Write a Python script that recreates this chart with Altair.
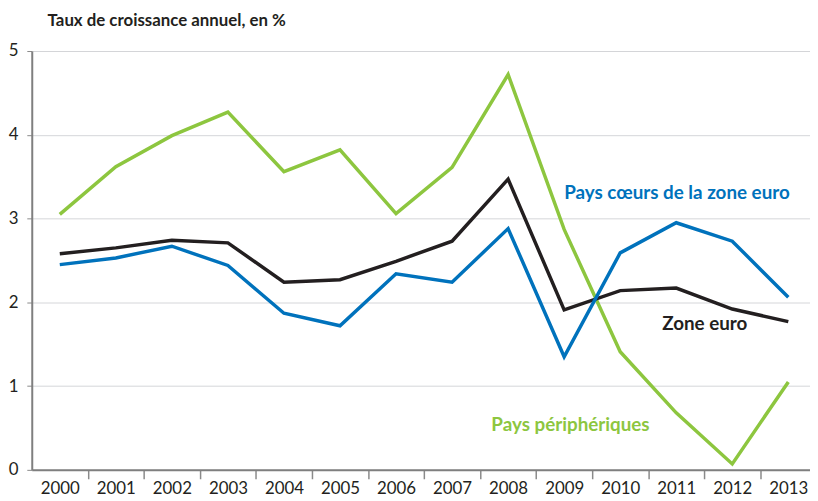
import altair as alt
import pandas as pd

years = list(range(2000, 2014))
peripheriques = [3.05, 3.62, 3.99, 4.27, 3.56, 3.82, 3.06, 3.61, 4.72, 2.87, 1.41, 0.68, 0.07, 1.05]
zone_euro = [2.58, 2.65, 2.74, 2.71, 2.24, 2.27, 2.49, 2.73, 3.47, 1.91, 2.14, 2.17, 1.92, 1.77]
coeurs = [2.45, 2.53, 2.67, 2.44, 1.87, 1.72, 2.34, 2.24, 2.88, 1.35, 2.59, 2.95, 2.73, 2.06]

series = ["Pays périphériques", "Zone euro", "Pays cœurs de la zone euro"]
colors = ["#8dc63f", "#231f20", "#0072bc"]

rows = []
for name, vals in zip(series, [peripheriques, zone_euro, coeurs]):
    for yr, v in zip(years, vals):
        rows.append({"annee": yr, "valeur": v, "serie": name})
df = pd.DataFrame(rows)

# annotation labels (position in data units)
lab_text = ["Pays cœurs de la zone euro", "Zone euro", "Pays périphériques"]
lab_x = [2009.0, 2010.75, 2007.7]
lab_y = [3.30, 1.74, 0.53]
lab_df = pd.DataFrame({"texte": lab_text, "x": lab_x, "y": lab_y, "serie": [series[2], series[1], series[0]]})

FONT = "Lato"
step = 56.6
width = 786
x0 = 1999.5
x1 = x0 + width / step

xscale = alt.Scale(domain=[x0, x1], nice=False, zero=False)
yscale = alt.Scale(domain=[0, 5], nice=False)
cscale = alt.Scale(domain=series, range=colors)

lines = alt.Chart(df).mark_line(strokeWidth=3.5, strokeJoin="miter", clip=True).encode(
    x=alt.X("annee:Q", scale=xscale,
            axis=alt.Axis(values=years, format="d", title=None, grid=False,
                          tickOffset=step / 2, labelOffset=-step / 2,
                          tickSize=9, tickColor="#8a8a8a", tickWidth=1.5,
                          domainColor="#7f7f7f", domainWidth=2,
                          labelFont=FONT, labelFontSize=17, labelColor="#231f20",
                          labelPadding=2, labelFlush=False, labelOverlap=False)),
    y=alt.Y("valeur:Q", scale=yscale,
            axis=alt.Axis(values=[0, 1, 2, 3, 4, 5], format="d", title=None, grid=True,
                          gridColor="#d5d6d9", gridWidth=1,
                          tickSize=5, tickColor="#8a8a8a", tickWidth=1,
                          domainColor="#7f7f7f", domainWidth=2,
                          labelFont=FONT, labelFontSize=17, labelColor="#231f20",
                          labelPadding=9)),
    color=alt.Color("serie:N", scale=cscale, legend=None),
    detail="serie:N",
)

labels = alt.Chart(lab_df).mark_text(font=FONT, fontSize=19, fontWeight="bold",
                                     align="left", baseline="middle").encode(
    x=alt.X("x:Q", scale=xscale),
    y=alt.Y("y:Q", scale=yscale),
    text="texte:N",
    color=alt.Color("serie:N", scale=cscale, legend=None),
)

chart = alt.layer(lines, labels).properties(
    width=width,
    height=423,
    title=alt.TitleParams("Taux de croissance annuel, en %", anchor="start", frame="group", dx=16,
                          font=FONT, fontSize=17, fontWeight="bold", color="#231f20",
                          offset=12),
    autosize=alt.AutoSizeParams(type="none"),
    padding={"left": 24, "top": 41, "right": 0, "bottom": 29},
).configure_view(fill="#f1f2f4", stroke=None).configure(background="white")

chart.save("out.html", embed_options={"renderer": "svg", "actions": False})
